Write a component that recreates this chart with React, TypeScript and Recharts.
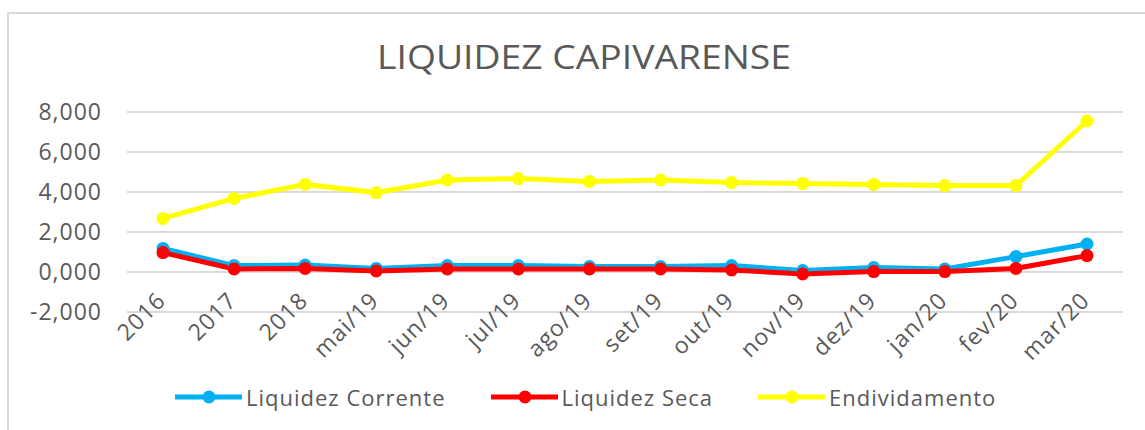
import React from 'react';
import { LineChart, Line, XAxis, YAxis, CartesianGrid } from 'recharts';

const categories = ['2016', '2017', '2018', 'mai/19', 'jun/19', 'jul/19', 'ago/19', 'set/19', 'out/19', 'nov/19', 'dez/19', 'jan/20', 'fev/20', 'mar/20'];
const liquidezCorrente = [1.18, 0.32, 0.35, 0.18, 0.32, 0.32, 0.27, 0.27, 0.32, 0.07, 0.22, 0.15, 0.77, 1.4];
const liquidezSeca = [0.97, 0.15, 0.18, 0.05, 0.15, 0.15, 0.15, 0.15, 0.1, -0.1, 0.02, 0.02, 0.18, 0.82];
const endividamento = [2.68, 3.68, 4.38, 3.97, 4.6, 4.67, 4.53, 4.6, 4.47, 4.43, 4.38, 4.32, 4.32, 7.55];
const yTicks = [-2, 0, 2, 4, 6, 8];

const series = [
  { key: 'corrente', name: 'Liquidez Corrente', color: '#00b0f0', values: liquidezCorrente },
  { key: 'seca', name: 'Liquidez Seca', color: '#ff0000', values: liquidezSeca },
  { key: 'endiv', name: 'Endividamento', color: '#ffff00', values: endividamento },
];

const data = categories.map((cat, i) => {
  const row: { [k: string]: string | number } = { cat };
  series.forEach((s) => { row[s.key] = s.values[i]; });
  return row;
});

const FONT = '"Open Sans", sans-serif';
const TEXT = '#595959';

const fmt = (v: number) => v.toFixed(3).replace('.', ',');

function XTick({ x, y, payload }: any) {
  const ax = x + 4;
  const ay = y - 10;
  return (
    <text x={ax} y={ay} transform={`rotate(-45, ${ax}, ${ay})`} textAnchor="end" fill={TEXT} fontSize={23} letterSpacing={1} fontFamily={FONT}>
      {payload.value}
    </text>
  );
}

function YTick({ x, y, payload }: any) {
  return (
    <text x={x} y={y} dy="0.355em" textAnchor="end" fill={TEXT} fontSize={23} letterSpacing={1} fontFamily={FONT}>
      {fmt(payload.value)}
    </text>
  );
}

export default function App() {
  return (
    <div style={{ position: 'fixed', left: 0, top: 0, width: 1145, height: 430, overflow: 'hidden', background: '#fff' }}>
      <div style={{ position: 'absolute', left: 7, top: 12, width: 1200, height: 500, border: '2px solid #d9d9d9' }} />
      <div style={{ position: 'absolute', left: 0, top: 40, width: 1168, textAlign: 'center', fontFamily: FONT, fontSize: 33, lineHeight: '33px', color: TEXT, transform: 'scaleX(1.13)', transformOrigin: '584px 0' }}>
        LIQUIDEZ CAPIVARENSE
      </div>
      <div style={{ position: 'absolute', left: 0, top: 0 }}>
        <LineChart width={1145} height={430} data={data} margin={{ top: 112, right: 22, bottom: 0, left: 0 }}>
          <CartesianGrid vertical={false} stroke="#d9d9d9" strokeWidth={2} />
          <XAxis
            dataKey="cat"
            height={118}
            axisLine={false}
            tickLine={false}
            tickSize={0}
            tickMargin={0}
            interval={0}
            padding={{ left: 36, right: 36 }}
            tick={<XTick />}
          />
          <YAxis
            width={127}
            domain={[-2, 8]}
            ticks={yTicks}
            axisLine={false}
            tickLine={false}
            tickSize={0}
            tickMargin={25}
            tick={<YTick />}
          />
          {series.map((s) => (
            <Line
              key={s.key}
              dataKey={s.key}
              name={s.name}
              stroke={s.color}
              strokeWidth={5}
              dot={{ r: 6.5, fill: s.color, stroke: s.color, strokeWidth: 0 }}
              isAnimationActive={false}
            />
          ))}
        </LineChart>
      </div>
      <div style={{ position: 'absolute', left: 175, top: 383, display: 'flex', alignItems: 'center', fontFamily: FONT, fontSize: 22, letterSpacing: 1, color: TEXT }}>
        {series.map((s, i) => (
          <div key={s.key} style={{ display: 'flex', alignItems: 'center', marginRight: i < series.length - 1 ? 45 : 0 }}>
            <svg width={67} height={14} style={{ marginRight: 4 }}>
              <line x1={0} y1={7} x2={67} y2={7} stroke={s.color} strokeWidth={5} strokeLinecap="round" />
              <circle cx={34} cy={7} r={6.5} fill={s.color} />
            </svg>
            <span style={{ lineHeight: '28px' }}>{s.name}</span>
          </div>
        ))}
      </div>
    </div>
  );
}
